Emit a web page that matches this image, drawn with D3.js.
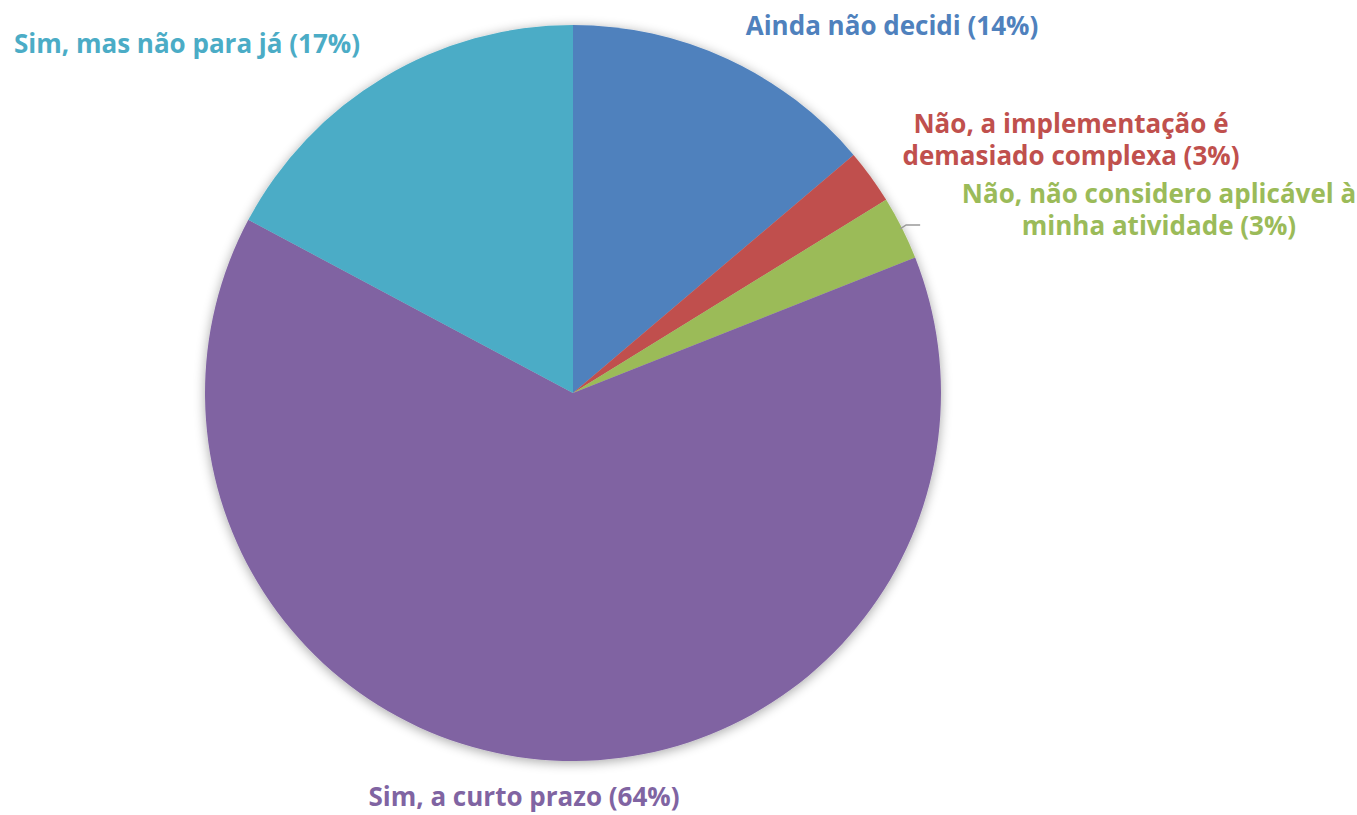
<!DOCTYPE html>
<html>
<head>
<meta charset="utf-8">
<script src="https://cdn.jsdelivr.net/npm/d3@7"></script>
<style>
  body { margin: 0; background: #fff; }
  text { font-family: "Open Sans", Lato, sans-serif; font-weight: 700; }
</style>
</head>
<body>
<svg id="chart" width="1357" height="815"></svg>
<script>
// data
const categories = [
    "Ainda não decidi",
    "Não, a implementação é demasiado complexa",
    "Não, não considero aplicável à minha atividade",
    "Sim, a curto prazo",
    "Sim, mas não para já"
];
const values = [13.8, 2.4, 2.8, 63.8, 17.2];
const labels = ["14%", "3%", "3%", "64%", "17%"];
const colors = ["#4F81BD", "#C0504D", "#9BBB59", "#8064A2", "#4BACC6"];

const width = 1357;
const height = 815;
const cx = 573, cy = 393, radius = 368;

const svg = d3.select("#chart");

// soft shadow like the office chart
const defs = svg.append("defs");
const filter = defs.append("filter").attr("id", "shadow")
    .attr("x", "-20%").attr("y", "-20%").attr("width", "140%").attr("height", "140%");
filter.append("feGaussianBlur").attr("in", "SourceAlpha").attr("stdDeviation", 6);
filter.append("feOffset").attr("dx", 0).attr("dy", 2).attr("result", "blur");
filter.append("feComponentTransfer").append("feFuncA").attr("type", "linear").attr("slope", 0.35);
const merge = filter.append("feMerge");
merge.append("feMergeNode");
merge.append("feMergeNode").attr("in", "SourceGraphic");

const pie = d3.pie().sort(null).value(d => d);
const arc = d3.arc().innerRadius(0).outerRadius(radius);
const arcs = pie(values);

const g = svg.append("g").attr("transform", `translate(${cx},${cy})`);

g.append("g").attr("filter", "url(#shadow)")
    .selectAll("path")
    .data(arcs)
    .enter()
    .append("path")
    .attr("d", arc)
    .attr("fill", (d, i) => colors[i]);

// leader line for the green slice
const green = arcs[2];
const mid = (green.startAngle + green.endAngle) / 2;
const p0 = [Math.sin(mid) * (radius - 2), -Math.cos(mid) * (radius - 2)];
g.append("polyline")
    .attr("points", [p0, [p0[0] + 6, p0[1] - 4], [p0[0] + 20, p0[1] - 4]].map(p => p.join(",")).join(" "))
    .attr("fill", "none")
    .attr("stroke", "#999")
    .attr("stroke-width", 1.5);

// labels (lines, anchor x, first baseline y)
const labelSpecs = [
    { lines: [`${categories[0]} (${labels[0]})`], x: 892, y: 35 },
    { lines: ["Não, a implementação é", `demasiado complexa (${labels[1]})`], x: 1071, y: 133 },
    { lines: ["Não, não considero aplicável à", `minha atividade (${labels[2]})`], x: 1159, y: 203 },
    { lines: [`${categories[3]} (${labels[3]})`], x: 524, y: 806 },
    { lines: [`${categories[4]} (${labels[4]})`], x: 187, y: 53 }
];

labelSpecs.forEach((s, i) => {
    const t = svg.append("text")
        .attr("text-anchor", "middle")
        .attr("font-size", 26)
        .attr("fill", colors[i]);
    s.lines.forEach((line, j) => {
        t.append("tspan")
            .attr("x", s.x)
            .attr("y", s.y + j * 32)
            .text(line);
    });
});
</script>
</body>
</html>
